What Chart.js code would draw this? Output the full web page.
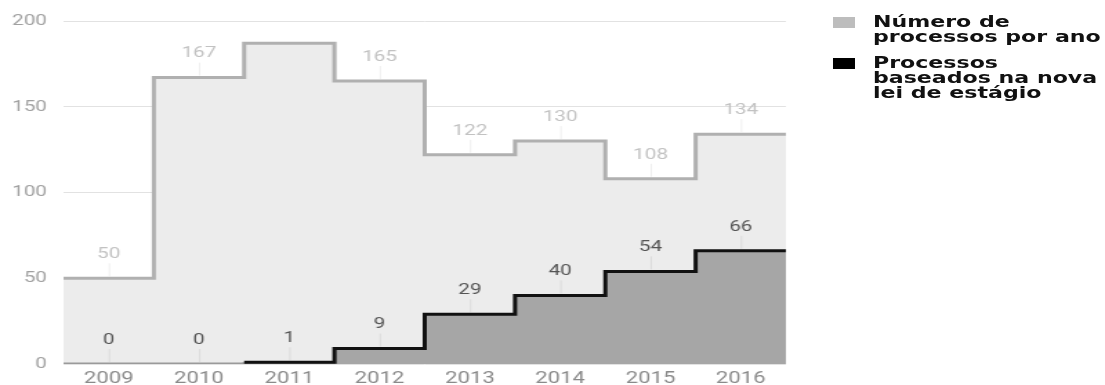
<!DOCTYPE html>
<html>
<head>
<meta charset="utf-8">
<script src="https://cdn.jsdelivr.net/npm/chart.js@4"></script>
<style>
  html, body { margin: 0; padding: 0; background: #fff; overflow: hidden; }
  /* the reference is stretched sideways, so draw at 800px and stretch */
  #wrap { position: relative; width: 800px; height: 385px; transform: scaleX(1.38125); transform-origin: 0 0; }
  .legend { position: absolute; left: 603px; font: bold 16px/15px "DejaVu Sans", sans-serif; color: #111; }
  .legend .box { position: absolute; left: 0; width: 16px; height: 11px; }
  .legend .txt { position: absolute; left: 29px; white-space: nowrap; }
</style>
</head>
<body>
<div id="wrap">
  <canvas id="myChart" width="800" height="385"></canvas>
  <div class="legend" style="top:14px">
    <div class="box" style="top:3px;background:#bdbdbd"></div>
    <div class="txt">Número de<br>processos por ano</div>
  </div>
  <div class="legend" style="top:55px">
    <div class="box" style="top:3px;background:#000"></div>
    <div class="txt">Processos<br>baseados na nova<br>lei de estágio</div>
  </div>
</div>
<script>
// DATA
const years = [2009, 2010, 2011, 2012, 2013, 2014, 2015, 2016];
const processos = [50, 167, 187, 165, 122, 130, 108, 134];
const novaLei = [0, 0, 1, 9, 29, 40, 54, 66];
const yTicks = [0, 50, 100, 150, 200];
const semRotulo = [2011]; // no value label on the grey series for this year

// each year fills its whole band: step starts at the left edge, closes at the right edge
function steps(values) {
  let pts = years.map((yr, i) => ({ x: yr - 0.5, y: values[i] }));
  pts.push({ x: years[years.length - 1] + 0.5, y: values[values.length - 1] });
  return pts;
}

// VALUE LABELS
const valueLabels = {
  id: 'valueLabels',
  afterDatasetsDraw(chart) {
    const ctx = chart.ctx;
    const xs = chart.scales.x, ys = chart.scales.y;
    chart.data.datasets.forEach((ds, d) => {
      ds.raw.forEach((v, i) => {
        if (d === 1 && semRotulo.includes(years[i])) return;
        let x = xs.getPixelForValue(years[i]);
        let y = ys.getPixelForValue(v);
        ctx.save();
        ctx.strokeStyle = 'rgba(0,0,0,0.07)';
        ctx.lineWidth = 1;
        ctx.beginPath();
        ctx.moveTo(x + 0.5, y - 2);
        ctx.lineTo(x + 0.5, y - 15);
        ctx.stroke();
        ctx.fillStyle = ds.labelColor;
        ctx.font = '15px Roboto';
        ctx.textAlign = 'center';
        ctx.textBaseline = 'middle';
        ctx.fillText(v, x, y - 24);
        ctx.restore();
      });
    });
  }
};

let myChart = document.getElementById('myChart').getContext('2d');
window.bar = new Chart(myChart, {
  type: 'line',
  data: {
    datasets: [{
      label: 'Processos baseados na nova lei de estágio',
      raw: novaLei,
      labelColor: '#555',
      data: steps(novaLei),
      stepped: 'before',
      fill: 'origin',
      backgroundColor: '#a6a6a6',
      borderColor: '#111',
      borderWidth: 3,
      pointRadius: 0,
      segment: {
        // zero stretches sit on the baseline in grey
        borderColor: c => c.p0.parsed.y === 0 ? '#9a9a9a' : '#111'
      }
    }, {
      label: 'Número de processos por ano',
      raw: processos,
      labelColor: '#c2c2c2',
      data: steps(processos),
      stepped: 'before',
      fill: 'origin',
      backgroundColor: '#ececec',
      borderColor: '#b0b0b0',
      borderWidth: 3,
      pointRadius: 0
    }]
  },
  options: {
    responsive: false,
    animation: false,
    layout: { padding: { top: 21, right: 231, bottom: 0, left: 0 } },
    plugins: {
      legend: { display: false },
      tooltip: { enabled: false }
    },
    scales: {
      x: {
        type: 'linear',
        min: years[0] - 0.5,
        max: years[years.length - 1] + 0.5,
        afterBuildTicks: s => { s.ticks = years.map(v => ({ value: v })); },
        afterFit: s => { s.height = 21; },
        grid: { display: false, drawTicks: false },
        border: { display: false },
        ticks: {
          autoSkip: false,
          maxRotation: 0,
          padding: 5,
          color: '#8a8a8a',
          font: { family: 'Roboto', size: 16 },
          callback: v => String(v)
        }
      },
      y: {
        min: yTicks[0],
        max: yTicks[yTicks.length - 1],
        afterBuildTicks: s => { s.ticks = yTicks.map(v => ({ value: v })); },
        afterFit: s => { s.width = 46; },
        grid: { color: '#e2e2e2', drawTicks: false },
        border: { display: false },
        ticks: {
          padding: 12,
          color: '#a0a0a0',
          font: { family: 'Roboto', size: 15 }
        }
      }
    }
  },
  plugins: [valueLabels]
});
</script>
</body>
</html>
